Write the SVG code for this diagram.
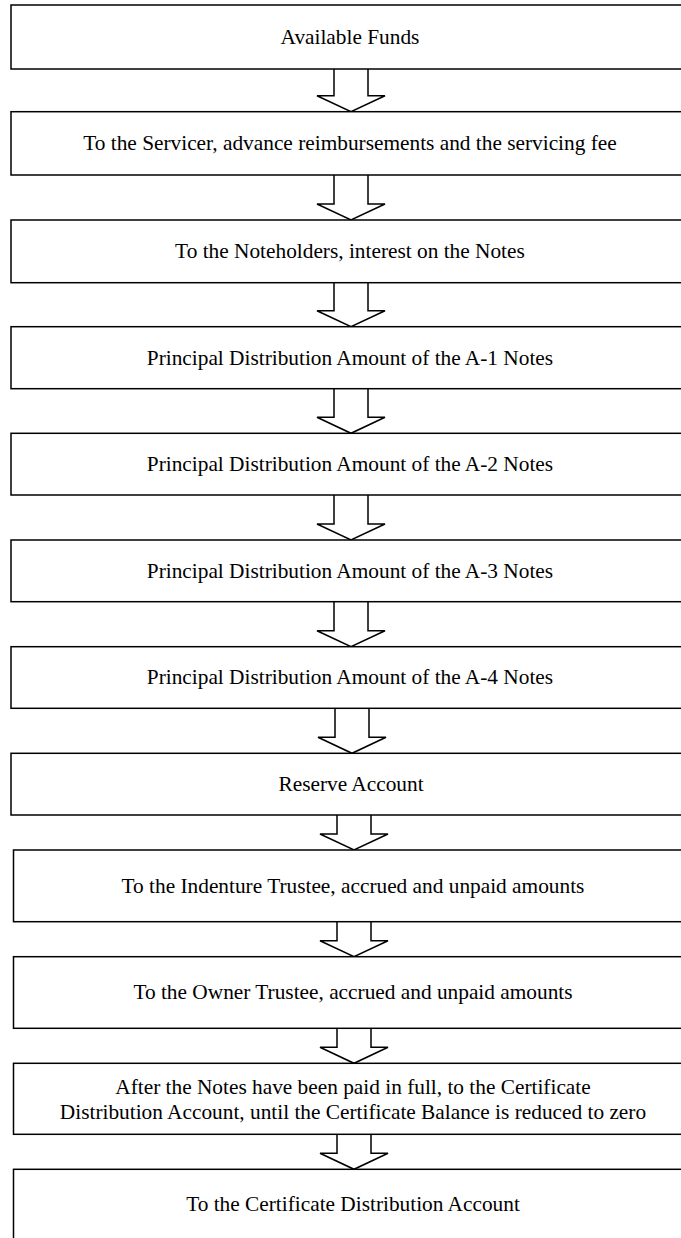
<svg xmlns="http://www.w3.org/2000/svg" width="681" height="1238" viewBox="0 0 681 1238">
<style>
.box{fill:#fff;stroke:#000;stroke-width:1.5}
.arr{fill:#fff;stroke:#000;stroke-width:1.5;stroke-linejoin:miter}
.t{font-family:"Liberation Serif","Times New Roman",serif;font-size:22px;fill:#000;text-anchor:middle}
</style>
<rect width="681" height="1238" fill="#fff"/>
<g id="connectors">
<path class="arr" d="M334,69 V95.7 H317 L351,111.7 L385,95.7 H368 V69"/>
<path class="arr" d="M334,175 V204 H317 L351,220 L385,204 H368 V175"/>
<path class="arr" d="M334,282.7 V310.7 H317 L351,326.7 L385,310.7 H368 V282.7"/>
<path class="arr" d="M334,388.7 V417.3 H317 L351,433.3 L385,417.3 H368 V388.7"/>
<path class="arr" d="M334,495 V524 H317 L351,540 L385,524 H368 V495"/>
<path class="arr" d="M334,601.7 V630.7 H317 L351,646.7 L385,630.7 H368 V601.7"/>
<path class="arr" d="M335,708.3 V737.3 H318 L352,753.3 L386,737.3 H369 V708.3"/>
<path class="arr" d="M337,815 V834 H320 L354,850 L388,834 H371 V815"/>
<path class="arr" d="M337,921.7 V940.7 H320 L354,956.7 L388,940.7 H371 V921.7"/>
<path class="arr" d="M337,1028.3 V1047.3 H320 L354,1063.3 L388,1047.3 H371 V1028.3"/>
<path class="arr" d="M337,1134.3 V1153.3 H320 L354,1169.3 L388,1153.3 H371 V1134.3"/>
</g>
<g id="n1"><rect class="box" x="11" y="5" width="680" height="64"/><text class="t" x="360.8" y="44" transform="scale(0.97 1)">Available Funds</text></g>
<g id="n2"><rect class="box" x="11" y="111.7" width="680" height="63.3"/><text class="t" x="360.8" y="150.3" transform="scale(0.97 1)">To the Servicer, advance reimbursements and the servicing fee</text></g>
<g id="n3"><rect class="box" x="11" y="220" width="680" height="62.7"/><text class="t" x="360.8" y="258.3" transform="scale(0.97 1)">To the Noteholders, interest on the Notes</text></g>
<g id="n4"><rect class="box" x="11" y="326.7" width="680" height="62"/><text class="t" x="360.8" y="364.7" transform="scale(0.97 1)">Principal Distribution Amount of the A-1 Notes</text></g>
<g id="n5"><rect class="box" x="11" y="433.3" width="680" height="61.7"/><text class="t" x="360.8" y="471.2" transform="scale(0.97 1)">Principal Distribution Amount of the A-2 Notes</text></g>
<g id="n6"><rect class="box" x="11" y="540" width="680" height="61.7"/><text class="t" x="360.8" y="577.8" transform="scale(0.97 1)">Principal Distribution Amount of the A-3 Notes</text></g>
<g id="n7"><rect class="box" x="11" y="646.7" width="680" height="61.6"/><text class="t" x="360.8" y="684.5" transform="scale(0.97 1)">Principal Distribution Amount of the A-4 Notes</text></g>
<g id="n8"><rect class="box" x="11" y="753.3" width="680" height="61.7"/><text class="t" x="361.9" y="791.2" transform="scale(0.97 1)">Reserve Account</text></g>
<g id="n9"><rect class="box" x="13.5" y="850" width="680" height="71.7"/><text class="t" x="363.9" y="893" transform="scale(0.97 1)">To the Indenture Trustee, accrued and unpaid amounts</text></g>
<g id="n10"><rect class="box" x="13.5" y="956.7" width="680" height="71.6"/><text class="t" x="363.9" y="999.5" transform="scale(0.97 1)">To the Owner Trustee, accrued and unpaid amounts</text></g>
<g id="n11"><rect class="box" x="13.5" y="1063.3" width="680" height="71"/><text class="t" transform="scale(0.97 1)"><tspan x="363.9" y="1094">After the Notes have been paid in full, to the Certificate</tspan><tspan x="363.9" y="1119">Distribution Account, until the Certificate Balance is reduced to zero</tspan></text></g>
<g id="n12"><rect class="box" x="13.5" y="1169.3" width="680" height="75"/><text class="t" x="363.9" y="1211" transform="scale(0.97 1)">To the Certificate Distribution Account</text></g>
</svg>
